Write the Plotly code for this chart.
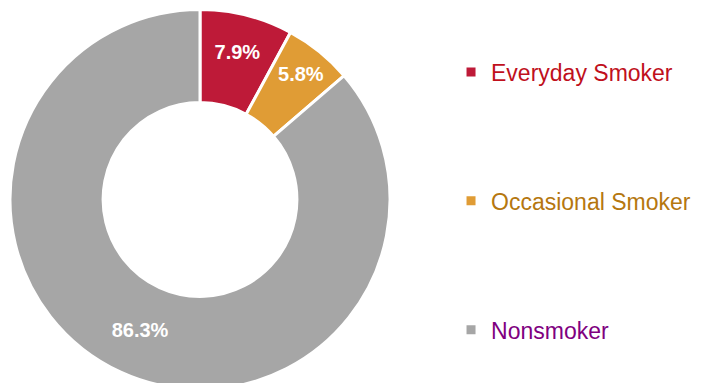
import plotly.graph_objects as go

categories = ["Everyday Smoker", "Occasional Smoker", "Nonsmoker"]
shares = [7.9, 5.8, 86.3]
slice_colors = ["#BE1A38", "#E09C35", "#A6A6A6"]
legend_text_colors = ["#C0101C", "#B5770F", "#800080"]

fig = go.Figure()
fig.add_trace(go.Pie(
    labels=categories,
    values=shares,
    sort=False,
    direction="clockwise",
    rotation=0,
    hole=0.51,
    marker=dict(colors=slice_colors, line=dict(color="white", width=3)),
    texttemplate="%{value}%",
    textposition="inside",
    insidetextorientation="horizontal",
    textfont=dict(family="Liberation Sans Narrow, Arial Narrow, Liberation Sans, Arial", size=20, color="white", weight="bold"),
    domain=dict(x=[2 / 704, 382 / 704], y=[0, 1]),
    hoverinfo="skip",
    showlegend=False,
))

for name, sc, tc in zip(categories, slice_colors, legend_text_colors):
    fig.add_trace(go.Scatter(
        x=[None], y=[None], mode="markers",
        marker=dict(symbol="square", size=9, color=sc),
        name=f"<span style='color:{tc}'>{name}</span>",
        legendgroup=name,
        showlegend=True,
        hoverinfo="skip",
    ))

fig.update_layout(
    width=704, height=383,
    margin=dict(l=0, r=0, t=0, b=0),
    paper_bgcolor="white",
    plot_bgcolor="white",
    xaxis=dict(visible=False),
    yaxis=dict(visible=False),
    showlegend=True,
    legend=dict(
        x=0.6293, y=0.889, xanchor="left", yanchor="top",
        font=dict(family="Liberation Sans, Arial", size=23),
        tracegroupgap=96,
        bgcolor="rgba(0,0,0,0)",
    ),
)

fig.write_html("out.html")
